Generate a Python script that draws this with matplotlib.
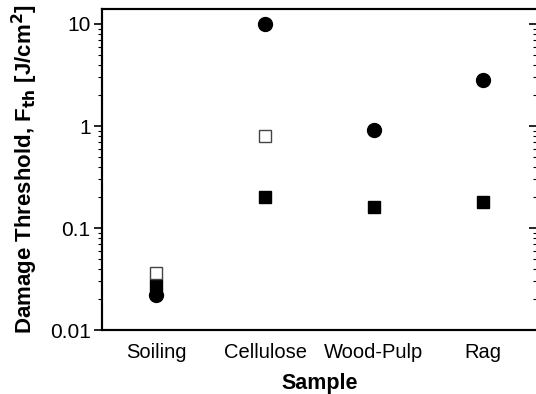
import numpy as np
import matplotlib.pyplot as plt
from matplotlib.ticker import LogLocator, NullFormatter

plt.rcParams['font.family'] = ['Liberation Sans', 'DejaVu Sans']

# data
samples = ['Soiling', 'Cellulose', 'Wood-Pulp', 'Rag']
circle_vals = [0.022, 10.0, 0.91, 2.8]
square_vals = [0.028, 0.20, 0.16, 0.18]
open_samples = ['Soiling', 'Cellulose']
open_vals = [0.036, 0.80]
yticks = [0.01, 0.1, 1, 10]
ytick_labels = ['0.01', '0.1', '1', '10']

fig = plt.figure(figsize=(5.36, 3.94), dpi=100)
ax = fig.add_axes([0.190, 0.162, 0.812, 0.815])

x = np.arange(len(samples))
xo = [samples.index(s) for s in open_samples]
ax.plot(x, circle_vals, 'o', color='black', markersize=10, zorder=3)
ax.plot(x, square_vals, 's', color='black', markersize=8.5, zorder=4)
ax.plot(xo, open_vals, 's', markerfacecolor='white', markeredgecolor='#444444',
        markeredgewidth=1.0, markersize=8.5, zorder=5)

ax.set_yscale('log')
ax.set_ylim(0.01, 14)
ax.set_xlim(-0.5, 3.5)
ax.set_xticks(x)
ax.set_xticklabels(samples, fontsize=14.5)
ax.tick_params(axis='x', length=0, pad=9)

ax.set_yticks(yticks)
ax.set_yticklabels(ytick_labels, fontsize=15)
ax.yaxis.set_minor_locator(LogLocator(base=10, subs=np.arange(2, 10)))
ax.yaxis.set_minor_formatter(NullFormatter())
ax.tick_params(axis='y', which='major', direction='out', length=6, width=1.2, right=False, pad=2)
ax.tick_params(axis='y', which='minor', direction='out', length=3, width=0.8, right=False)

# right-hand ticks point inward, no labels
ax2 = ax.twinx()
ax2.set_yscale('log')
ax2.set_ylim(ax.get_ylim())
ax2.set_yticks(yticks)
ax2.yaxis.set_minor_locator(LogLocator(base=10, subs=np.arange(2, 10)))
ax2.yaxis.set_major_formatter(NullFormatter())
ax2.yaxis.set_minor_formatter(NullFormatter())
ax2.tick_params(axis='y', which='major', direction='in', length=6, width=1.2)
ax2.tick_params(axis='y', which='minor', direction='in', length=3, width=0.8)

for a in (ax, ax2):
    for sp in a.spines.values():
        sp.set_linewidth(1.5)

ax.set_xlabel('Sample', fontsize=15.5, fontweight='bold', labelpad=8)
ax.set_ylabel(r'Damage Threshold, F$_{\mathbf{th}}$ [J/cm$^{\mathbf{2}}$]',
              fontsize=16, fontweight='bold', labelpad=7)

fig.savefig('out.png', dpi=100)
